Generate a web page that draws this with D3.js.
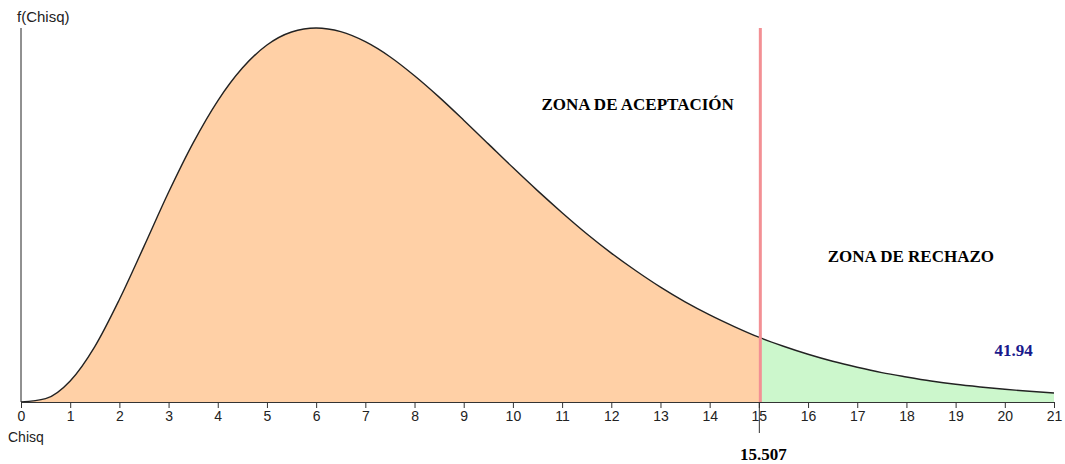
<!DOCTYPE html>
<html>
<head>
<meta charset="utf-8">
<script src="https://cdn.jsdelivr.net/npm/d3@7"></script>
<style>
  body { margin: 0; background: #fff; }
  .tick text { font-family: "Liberation Sans", Arial, sans-serif; font-size: 14px; fill: #222; }
  .zona { font-family: "Liberation Serif", "Times New Roman", serif; font-weight: bold; font-size: 17px; }
</style>
</head>
<body>
<svg width="1065" height="464"></svg>
<script>
// valores (densidad chi-cuadrado, cada 0.5)
var chisq = [0, 0.5, 1, 1.5, 2, 2.5, 3, 3.5, 4, 4.5, 5, 5.5, 6, 6.5, 7, 7.5, 8, 8.5, 9, 9.5, 10,
             10.5, 11, 11.5, 12, 12.5, 13, 13.5, 14, 14.5, 15, 15.5, 16, 16.5, 17, 17.5, 18, 18.5,
             19, 19.5, 20, 20.5, 21];
var densidad = [0, 0.0010, 0.0063, 0.0166, 0.0307, 0.0466, 0.0628, 0.0776, 0.0902, 0.1000, 0.1069,
                0.1108, 0.1120, 0.1109, 0.1079, 0.1034, 0.0977, 0.0913, 0.0844, 0.0773, 0.0702,
                0.0633, 0.0567, 0.0504, 0.0446, 0.0393, 0.0344, 0.0300, 0.0261, 0.0226, 0.0194,
                0.0167, 0.0143, 0.0122, 0.0104, 0.0088, 0.0075, 0.0063, 0.0053, 0.0045, 0.0038,
                0.0032, 0.0027];
var xTicks = d3.range(0, 22);
var lineaCritica = 15.03;      // posicion donde se dibuja la linea
var valorCritico = "15.507";
var valorCalculado = "41.94";

var data = chisq.map(function(d, i) { return {x: d, y: densidad[i]}; });

var svg = d3.select("svg"),
    margin = {top: 28, right: 11, bottom: 62, left: 21},
    width = +svg.attr("width") - margin.left - margin.right,
    height = +svg.attr("height") - margin.top - margin.bottom,
    g = svg.append("g").attr("transform", "translate(" + margin.left + "," + margin.top + ")");

var x = d3.scaleLinear().domain([0, 21]).range([0, width]);
var y = d3.scaleLinear().domain([0, d3.max(densidad)]).range([height, 0]);

var area = d3.area().curve(d3.curveMonotoneX)
  .x(function(d) { return x(d.x); })
  .y0(height)
  .y1(function(d) { return y(d.y); });
var line = d3.line().curve(d3.curveMonotoneX)
  .x(function(d) { return x(d.x); })
  .y(function(d) { return y(d.y); });

var defs = svg.append("defs");
defs.append("clipPath").attr("id", "izq").append("rect")
  .attr("x", 0).attr("y", -10).attr("width", x(lineaCritica)).attr("height", height + 10);
defs.append("clipPath").attr("id", "der").append("rect")
  .attr("x", x(lineaCritica)).attr("y", -10).attr("width", width - x(lineaCritica)).attr("height", height + 10);

g.append("path").datum(data).attr("d", area).attr("fill", "#ffd0a6").attr("clip-path", "url(#izq)");
g.append("path").datum(data).attr("d", area).attr("fill", "#ccf7cc").attr("clip-path", "url(#der)");
g.append("path").datum(data).attr("d", line).attr("fill", "none").attr("stroke", "#222").attr("stroke-width", 1.4);

// ejes
g.append("g")
 .attr("transform", "translate(0," + height + ")")
 .call(d3.axisBottom(x).tickValues(xTicks).tickSize(6).tickPadding(3).tickSizeOuter(0))
 .call(function(a) { a.select(".domain").attr("stroke", "#333"); a.selectAll(".tick line").attr("stroke", "#333"); });

g.append("line").attr("x1", 0).attr("x2", 0).attr("y1", 0).attr("y2", height).attr("stroke", "#222");

g.append("line")
 .attr("x1", x(lineaCritica)).attr("x2", x(lineaCritica))
 .attr("y1", 0).attr("y2", height)
 .attr("stroke", "#f39094").attr("stroke-width", 3);
g.append("line")
 .attr("x1", x(lineaCritica) - 1).attr("x2", x(lineaCritica) - 1)
 .attr("y1", height).attr("y2", height + 31)
 .attr("stroke", "#333");

svg.append("text").attr("x", 17).attr("y", 22)
   .style("font-family", "Liberation Sans, Arial, sans-serif").style("font-size", "15px").attr("fill", "#222")
   .text("f(Chisq)");
svg.append("text").attr("x", 8).attr("y", 442)
   .style("font-family", "Liberation Sans, Arial, sans-serif").style("font-size", "14px").attr("fill", "#222")
   .text("Chisq");

g.append("text").attr("class", "zona").attr("x", x(10.58)).attr("y", 82).text("ZONA DE ACEPTACIÓN");
g.append("text").attr("class", "zona").attr("x", x(16.4)).attr("y", 234).text("ZONA DE RECHAZO");
g.append("text").attr("class", "zona").attr("x", x(20.18)).attr("y", 328)
 .attr("text-anchor", "middle").attr("fill", "#1a1a8c").text(valorCalculado);
g.append("text").attr("class", "zona").attr("x", x(lineaCritica) + 3).attr("y", height + 58)
 .attr("text-anchor", "middle").text(valorCritico);
</script>
</body>
</html>
